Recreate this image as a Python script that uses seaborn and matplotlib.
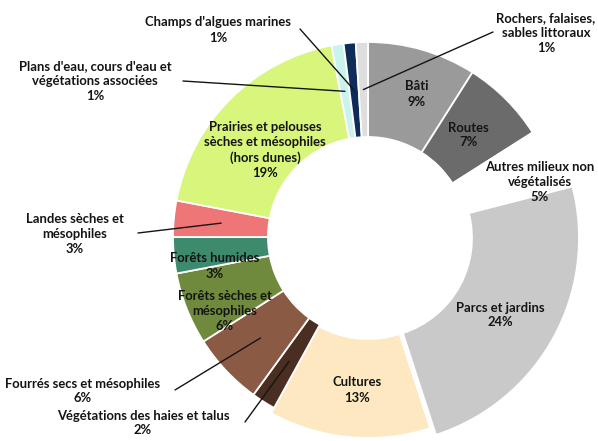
import numpy as np
import matplotlib
matplotlib.use("Agg")
import matplotlib.pyplot as plt
import seaborn as sns

sns.set_theme(style="white")
plt.rcParams['font.family'] = ['Lato', 'DejaVu Sans']

# Données (ordre horaire depuis midi)
categories = ["Bâti", "Routes", "Autres milieux non\nvégétalisés", "Parcs et jardins",
              "Cultures", "Végétations des haies et talus", "Fourrés secs et mésophiles",
              "Forêts sèches et\nmésophiles", "Forêts humides", "Landes sèches et\nmésophiles",
              "Prairies et pelouses\nsèches et mésophiles\n(hors dunes)",
              "Plans d'eau, cours d'eau et\nvégétations associées",
              "Champs d'algues marines", "Rochers, falaises,\nsables littoraux"]
values = [9, 7, 5, 24, 13, 2, 6, 6, 3, 3, 19, 1, 1, 1]
colors = ["#9a9a9a", "#6b6b6b", "#ffffff", "#c9c9c9", "#fde8c2", "#4a2e22", "#8a5a45",
          "#6f8a3c", "#3d8a6c", "#ef7676", "#d8f57c", "#c9f4ee", "#0e2c5a", "#dedede"]

W, H = 598, 441
cx, cy = 368, H - 237
R, ring = 195, 95

fig = plt.figure(figsize=(W / 100, H / 100), dpi=100)
ax = fig.add_axes([0, 0, 1, 1])

wedges, _ = ax.pie(values, colors=colors, radius=R, center=(cx, cy), startangle=90,
                   counterclock=False, frame=True,
                   wedgeprops=dict(width=ring, edgecolor="white", linewidth=1.3))
ax.set_xlim(0, W)
ax.set_ylim(0, H)
ax.axis("off")

# parcs et cultures un peu plus larges vers l'extérieur
wedges[3].set_center((cx + 4, cy - 1))
wedges[3].set_radius(R + 12)
wedges[3].set_width(ring + 12)
wedges[4].set_radius(R + 6)
wedges[4].set_width(ring + 4)


def mid_point(w):
    a = np.deg2rad((w.theta1 + w.theta2) / 2)
    r = w.r - w.width / 2
    return (w.center[0] + r * np.cos(a), w.center[1] + r * np.sin(a))


pct = [f"{v}%" for v in values]
txt = dict(ha="center", va="center", fontsize=9.4, fontweight="bold", color="#141414",
           linespacing=1.3)

# étiquettes intérieures
inside = {0: (417, 94), 1: (468, 135), 3: (500, 315), 4: (357, 390),
          7: (225, 311), 8: (215, 266), 10: (265, 150)}
for i, (x, y) in inside.items():
    ax.text(x, H - y, f"{categories[i]}\n{pct[i]}", **txt)

# étiquettes extérieures
ax.text(540, H - 182, f"{categories[2]}\n{pct[2]}", **txt)
outside = {13: ((546, 33), (493, 32)), 12: ((218, 30), (300, 29)),
           11: ((95, 81), (183, 81)), 9: ((75, 234), (138, 233)),
           6: ((83, 391), (175, 390)), 5: ((143, 423), (245, 422))}
for i, ((x, y), (lx, ly)) in outside.items():
    ax.text(x, H - y, f"{categories[i]}\n{pct[i]}", **txt)
    ax.annotate("", xy=mid_point(wedges[i]), xytext=(lx, H - ly),
                arrowprops=dict(arrowstyle="-", color="#141414", lw=1.0,
                                shrinkA=0, shrinkB=0))

fig.savefig("out.png", dpi=100, facecolor="white")
